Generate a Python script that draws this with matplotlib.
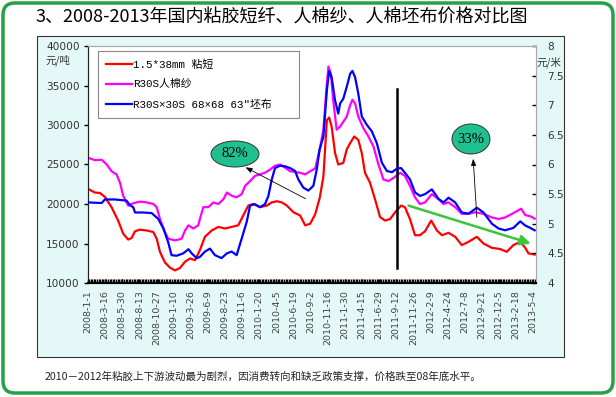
import matplotlib
matplotlib.use('Agg')
import matplotlib.pyplot as plt
import matplotlib.dates as mdates
import pandas as pd
from matplotlib.patches import Ellipse, FancyBboxPatch, Rectangle

plt.rcParams['font.family'] = ['Noto Sans CJK SC', 'DejaVu Sans']

# ---------------- data ----------------
title = "3、2008-2013年国内粘胶短纤、人棉纱、人棉坯布价格对比图"
footnote = "2010－2012年粘胶上下游波动最为剧烈，因消费转向和缺乏政策支撑，价格跌至08年底水平。"
series_names = ["1.5*38mm 粘短", "R30S人棉纱", "R30S×30S 68×68 63″坯布"]

xtick_labels = ["2008-1-1", "2008-3-16", "2008-5-30", "2008-8-13", "2008-10-27",
                "2009-1-10", "2009-3-26", "2009-6-9", "2009-8-23", "2009-11-6",
                "2010-1-20", "2010-4-5", "2010-6-19", "2010-9-2", "2010-11-16",
                "2011-1-30", "2011-4-15", "2011-6-29", "2011-9-12", "2011-11-26",
                "2012-2-9", "2012-4-24", "2012-7-8", "2012-9-21", "2012-12-5",
                "2013-2-18", "2013-5-4"]

red_dates = ["2008-01-02", "2008-01-31", "2008-02-22", "2008-03-15", "2008-04-13", "2008-05-12",
             "2008-06-03", "2008-06-25", "2008-07-10", "2008-07-25", "2008-08-15", "2008-09-14",
             "2008-10-13", "2008-10-28", "2008-11-11", "2008-12-03", "2008-12-25", "2009-01-16",
             "2009-02-07", "2009-03-01", "2009-03-23", "2009-04-14", "2009-05-05", "2009-05-27",
             "2009-06-26", "2009-07-25", "2009-08-23", "2009-09-21", "2009-10-20", "2009-11-11",
             "2009-12-03", "2009-12-25", "2010-01-23", "2010-02-22", "2010-03-16", "2010-04-07",
             "2010-04-29", "2010-05-21", "2010-06-19", "2010-07-18", "2010-08-09", "2010-08-31",
             "2010-09-22", "2010-10-12", "2010-10-28", "2010-11-12", "2010-11-22", "2010-12-03",
             "2010-12-18", "2011-01-01", "2011-01-23", "2011-02-07", "2011-02-22", "2011-03-12",
             "2011-03-30", "2011-04-14", "2011-04-28", "2011-05-20", "2011-06-11", "2011-07-03",
             "2011-07-25", "2011-08-16", "2011-09-07", "2011-10-03", "2011-10-20", "2011-11-11",
             "2011-12-03", "2011-12-25", "2012-01-16", "2012-02-12", "2012-03-08", "2012-03-30",
             "2012-04-28", "2012-05-27", "2012-06-25", "2012-07-24", "2012-08-30", "2012-09-28",
             "2012-11-04", "2012-12-10", "2013-01-08", "2013-02-06", "2013-03-08", "2013-03-30",
             "2013-04-13", "2013-05-10"]
red_vals = [21900, 21450, 21400, 20900, 19600, 17900,
            16250, 15500, 15700, 16550, 16750, 16650,
            16450, 15600, 13950, 12600, 11950, 11600,
            11900, 12700, 13100, 12900, 14150, 15850,
            16650, 17100, 16900, 17100, 17300, 18550,
            19800, 20000, 19600, 19800, 20200, 20350,
            20200, 19800, 18950, 18550, 17300, 17500,
            18700, 20800, 23500, 30600, 30950, 29800,
            26450, 25000, 25200, 26900, 27700, 28550,
            28100, 26450, 23950, 22700, 20600, 18350,
            17900, 18100, 18950, 19800, 19600, 18100,
            16050, 16050, 16550, 17900, 16650, 16050,
            16350, 15850, 14800, 15200, 15850, 15000,
            14450, 14300, 13950, 14800, 15200, 14450,
            13750, 13600]

mag_dates = ["2008-01-02", "2008-01-31", "2008-03-01", "2008-03-23", "2008-04-13", "2008-05-05",
             "2008-05-20", "2008-06-03", "2008-06-25", "2008-07-17", "2008-08-15", "2008-09-14",
             "2008-10-13", "2008-10-28", "2008-11-11", "2008-12-03", "2008-12-17", "2009-01-16",
             "2009-02-14", "2009-03-01", "2009-03-16", "2009-04-06", "2009-04-28", "2009-05-05",
             "2009-05-20", "2009-06-11", "2009-07-03", "2009-07-25", "2009-08-16", "2009-08-31",
             "2009-09-21", "2009-10-13", "2009-11-04", "2009-11-19", "2009-12-11", "2010-01-01",
             "2010-01-23", "2010-02-14", "2010-03-08", "2010-03-30", "2010-04-21", "2010-05-13",
             "2010-06-04", "2010-06-26", "2010-07-18", "2010-08-09", "2010-08-31", "2010-09-22",
             "2010-10-11", "2010-10-28", "2010-11-12", "2010-11-19", "2010-11-30", "2010-12-10",
             "2010-12-25", "2011-01-09", "2011-01-23", "2011-02-07", "2011-02-22", "2011-03-04",
             "2011-03-16", "2011-03-30", "2011-04-21", "2011-05-13", "2011-06-04", "2011-06-26",
             "2011-07-18", "2011-08-09", "2011-08-31", "2011-09-29", "2011-10-20", "2011-11-11",
             "2011-12-03", "2011-12-25", "2012-01-16", "2012-02-15", "2012-03-15", "2012-04-06",
             "2012-04-28", "2012-05-27", "2012-06-25", "2012-07-24", "2012-08-23", "2012-09-28",
             "2012-11-04", "2012-12-03", "2013-01-01", "2013-02-06", "2013-03-12", "2013-03-30",
             "2013-04-21", "2013-05-10"]
mag_vals = [25850, 25550, 25600, 25000, 24150, 23750,
            22700, 21050, 19800, 20100, 20300, 20200,
            20000, 19600, 18100, 16450, 15600, 15400,
            15600, 16650, 17300, 16900, 17300, 18100,
            19600, 19600, 20200, 20000, 20600, 21450,
            21050, 20850, 21250, 22300, 22900, 23550,
            23750, 23950, 24350, 24850, 25000, 24600,
            24150, 24050, 23950, 23750, 24150, 24500,
            26800, 29400, 35200, 37400, 36450, 33100,
            29400, 29800, 30400, 31050, 32500, 33200,
            32700, 31050, 29600, 28550, 27300, 25000,
            23100, 22900, 23300, 23950, 23550, 22300,
            20850, 20000, 20200, 21250, 20600, 20000,
            20200, 19600, 18750, 18750, 18950, 18750,
            18300, 18100, 18300, 18850, 19400, 18600,
            18450, 18150]

blue_dates = ["2008-01-02", "2008-03-01", "2008-03-15", "2008-04-28", "2008-06-18", "2008-07-03",
              "2008-07-17", "2008-07-25", "2008-08-30", "2008-10-06", "2008-11-04", "2008-11-26",
              "2008-12-17", "2009-01-01", "2009-01-23", "2009-02-21", "2009-03-16", "2009-03-30",
              "2009-04-21", "2009-05-05", "2009-05-27", "2009-06-18", "2009-07-10", "2009-08-08",
              "2009-08-31", "2009-09-21", "2009-10-13", "2009-11-04", "2009-11-26", "2009-12-11",
              "2010-01-01", "2010-01-23", "2010-02-14", "2010-03-01", "2010-03-16", "2010-03-30",
              "2010-04-21", "2010-05-13", "2010-06-04", "2010-06-26", "2010-07-10", "2010-08-01",
              "2010-08-23", "2010-09-14", "2010-09-29", "2010-10-11", "2010-10-28", "2010-11-12",
              "2010-11-22", "2010-12-03", "2010-12-18", "2011-01-01", "2011-01-09", "2011-01-23",
              "2011-02-07", "2011-02-22", "2011-03-04", "2011-03-16", "2011-03-30", "2011-04-14",
              "2011-05-06", "2011-05-28", "2011-06-19", "2011-07-11", "2011-08-02", "2011-08-24",
              "2011-09-15", "2011-10-03", "2011-10-20", "2011-11-11", "2011-12-03", "2011-12-25",
              "2012-01-16", "2012-02-15", "2012-03-15", "2012-04-06", "2012-04-28", "2012-05-27",
              "2012-06-25", "2012-07-24", "2012-08-30", "2012-09-28", "2012-11-04", "2012-12-03",
              "2013-01-01", "2013-02-06", "2013-03-08", "2013-03-30", "2013-04-21", "2013-05-10"]
blue_vals = [5.36, 5.35, 5.41, 5.41, 5.39, 5.31,
             5.28, 5.19, 5.19, 5.18, 5.08, 4.92,
             4.69, 4.47, 4.46, 4.50, 4.57, 4.50,
             4.42, 4.44, 4.53, 4.58, 4.47, 4.42,
             4.50, 4.53, 4.47, 4.75, 5.03, 5.31,
             5.33, 5.28, 5.33, 5.47, 5.75, 5.94,
             5.98, 5.97, 5.94, 5.89, 5.75, 5.61,
             5.56, 5.64, 5.92, 6.25, 6.47, 7.25,
             7.58, 7.47, 7.08, 6.86, 7.03, 7.11,
             7.31, 7.53, 7.58, 7.47, 7.19, 6.81,
             6.67, 6.56, 6.36, 6.03, 5.89, 5.87,
             5.93, 5.94, 5.86, 5.75, 5.53, 5.47,
             5.50, 5.58, 5.42, 5.36, 5.44, 5.36,
             5.19, 5.17, 5.27, 5.19, 5.00, 4.92,
             4.89, 4.93, 5.04, 4.97, 4.93, 4.89]

marker_date = "2011-09-16"
marker_range = [11900, 34600]
trend_start = ("2011-10-24", 19900)
trend_end = ("2013-05-04", 14900)

# ---------------- figure ----------------
W, H = 616, 397
fig = plt.figure(figsize=(W / 100, H / 100), dpi=100)

# outer green rounded frame
fig.add_artist(FancyBboxPatch((3, 4), W - 6, H - 7,
                              boxstyle="round,pad=0,rounding_size=12",
                              transform=None, facecolor='white',
                              edgecolor='#27a046', lw=2.5, zorder=-10))
# chart panel
fig.add_artist(Rectangle((37, H - 357), 564 - 37, 357 - 36, transform=None,
                         facecolor='#e4f8f8', edgecolor='#333333', lw=0.8, zorder=-9))

fig.text(35 / W, 1 - 18 / H, title, fontsize=13, ha='left', va='center', color='black',
         fontweight='medium')
fig.text(45 / W, 1 - 377 / H, footnote, fontsize=7.6, ha='left', va='center', color='#222222')

ax = fig.add_axes([88 / W, 1 - 283 / H, (536 - 88) / W, (283 - 46) / H])
ax.set_facecolor('white')
ax2 = ax.twinx()

rd = pd.to_datetime(red_dates)
md = pd.to_datetime(mag_dates)
bd = pd.to_datetime(blue_dates)

l1, = ax.plot(rd, red_vals, color='#ff0000', lw=1.6, zorder=3)
l2, = ax.plot(md, mag_vals, color='#ff00ff', lw=1.6, zorder=3)
l3, = ax2.plot(bd, blue_vals, color='#0000ff', lw=1.6, zorder=3)

xt = pd.to_datetime(xtick_labels)
x0 = xt[0]
x1 = xt[-1] + pd.Timedelta(days=12)
ax.set_xlim(x0, x1)
ax.set_ylim(10000, 40000)
ax2.set_ylim(4, 8)
ax.set_yticks(range(10000, 40001, 5000))
ax2.set_yticks([4, 4.5, 5, 5.5, 6, 6.5, 7, 7.5, 8])
ax2.set_yticklabels(['4', '4.5', '5', '5.5', '6', '6.5', '7', '7.5', '8'])
ax.set_xticks(xt)
ax.set_xticklabels(xtick_labels, rotation=90, fontsize=6.8, color='#444444',
                   family='DejaVu Sans')
ax.xaxis.set_minor_locator(mdates.DayLocator(interval=7))

ax.tick_params(axis='x', which='major', direction='in', length=3, width=1, pad=5, color='black')
ax.tick_params(axis='x', which='minor', direction='in', length=3, width=1, color='black')
ax.tick_params(axis='y', direction='out', length=3, width=1, pad=3, labelsize=7.6,
               labelcolor='#333333', color='black')
ax2.tick_params(axis='y', direction='in', length=3, width=1, pad=8, labelsize=7.6,
                labelcolor='#333333', color='black')
for lab in ax.get_yticklabels() + ax2.get_yticklabels():
    lab.set_family('DejaVu Sans')

for a in (ax, ax2):
    a.spines['top'].set_color('#aaaaaa')
    a.spines['right'].set_color('#aaaaaa')
    a.spines['left'].set_color('#222222')
    a.spines['bottom'].set_color('black')
    a.spines['bottom'].set_linewidth(1.5)

fig.text(45 / W, 1 - 60 / H, "元/吨", fontsize=7.5, ha='left', va='center', color='#333333')
fig.text(536 / W, 1 - 62 / H, "元/米", fontsize=7.5, ha='left', va='center', color='#333333')

# vertical marker line
ax.plot(pd.to_datetime([marker_date, marker_date]), marker_range, color='black', lw=1.8, zorder=4)

# green trend arrow
ax.annotate("", xy=(pd.Timestamp(trend_end[0]), trend_end[1]),
            xytext=(pd.Timestamp(trend_start[0]), trend_start[1]),
            arrowprops=dict(arrowstyle='-|>,head_length=0.6,head_width=0.3',
                            color='#3dc43d', lw=1.8), zorder=5)

# legend
leg_font = dict(family=['Liberation Mono', 'Noto Sans CJK SC', 'DejaVu Sans'], size=7.8)
leg = ax.legend([l1, l2, l3], series_names, loc='upper left',
                bbox_to_anchor=(98 / W, 1 - 55 / H, (299 - 98) / W, 0.01),
                bbox_transform=fig.transFigure, mode='expand', borderaxespad=0,
                fancybox=False, edgecolor='#888888', framealpha=1,
                handlelength=2.4, handletextpad=0.1, labelspacing=0.9,
                borderpad=0.75, prop=leg_font)
leg.get_frame().set_linewidth(0.8)
leg.set_zorder(6)
leg.remove()
ax2.add_artist(leg)

# percentage bubbles and arrows
def bubble(cx, cy, w, h, txt):
    fig.add_artist(Ellipse((cx, H - cy), w, h, transform=None, facecolor='#1fc08f',
                           edgecolor='#333333', lw=0.7, zorder=5))
    fig.text(cx / W, 1 - cy / H, txt, fontsize=10.5, ha='center', va='center',
             family='Liberation Serif', zorder=6)

bubble(235, 154, 48, 26, "82%")
bubble(471, 139, 38, 30, "33%")

fig.add_artist(matplotlib.text.Annotation("", xy=(243, H - 166), xytext=(308, H - 200),
               xycoords='figure pixels', textcoords='figure pixels',
               arrowprops=dict(arrowstyle='-|>,head_length=0.4,head_width=0.15',
                               color='black', lw=0.6)))
fig.add_artist(matplotlib.text.Annotation("", xy=(473, H - 156), xytext=(477, H - 220),
               xycoords='figure pixels', textcoords='figure pixels',
               arrowprops=dict(arrowstyle='-|>,head_length=0.4,head_width=0.15',
                               color='black', lw=0.6)))

fig.savefig("out.png", dpi=100)
